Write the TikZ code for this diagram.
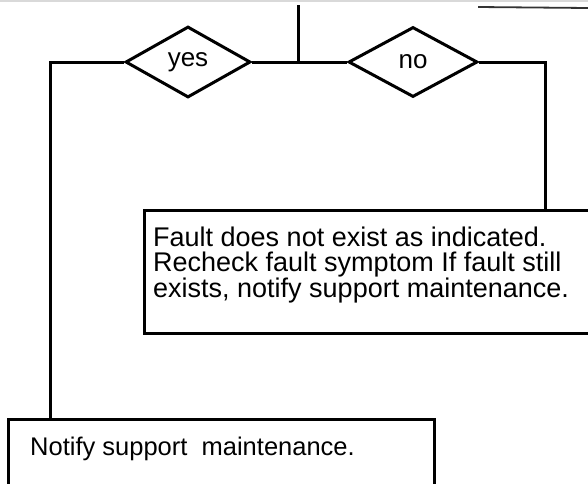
\documentclass[tikz,border=0pt]{standalone}
\usepackage{fontspec}
\setmainfont{Liberation Sans}
\usetikzlibrary{shapes.geometric}
\begin{document}
\begin{tikzpicture}[x=1pt,y=-1pt,
  ln/.style={line width=3pt},
  dia/.style={diamond, draw, line width=3pt, inner sep=0pt, font=\fontsize{26}{26}\selectfont},
  boxx/.style={rectangle, draw, line width=3pt, inner sep=0pt},
  txt/.style={inner sep=0pt, align=left}]
\useasboundingbox (0,0) rectangle (588,483);
% scan edge lines at the top
\coordinate (g1) at (0,1);
\coordinate (g2) at (588,1);
\draw[black!15, line width=1.5pt] (g1) -- (g2);
\coordinate (t1) at (478,7);
\coordinate (t2) at (588,8);
\draw[black!80, line width=1.8pt] (t1) -- (t2);
% decisions
\node[dia, minimum width=125pt, minimum height=71pt] (yes) at (188,62) {yes};
\node[dia, minimum width=129pt, minimum height=70pt] (no) at (413,62) {no};
% boxes
\node[boxx, anchor=north west, minimum width=449pt, minimum height=123pt] (fault) at (143,209) {};
\node[txt, anchor=north west, font=\fontsize{27}{24.5}\selectfont] (faulttext) at (153,227)
  {Fault does not exist as indicated.\\Recheck fault symptom If fault still\\exists, notify support maintenance.};
\node[boxx, anchor=north west, minimum width=426pt, minimum height=66pt] (notify) at (7,418) {};
\node[txt, anchor=base west, font=\fontsize{25.5}{25.5}\selectfont] (notifytext) at (30,455) {Notify support\ \ maintenance.};
% connectors
\coordinate (tp) at (298,5);
\coordinate (jn) at (298,62);
\draw[ln] (yes.east) -- (no.west);
\draw[ln] (tp) -- (jn);
\coordinate (a) at (50,418);
\draw[ln] (yes.west) -| (a);
\coordinate (b) at (545,209);
\draw[ln] (no.east) -| (b);
\end{tikzpicture}
\end{document}
